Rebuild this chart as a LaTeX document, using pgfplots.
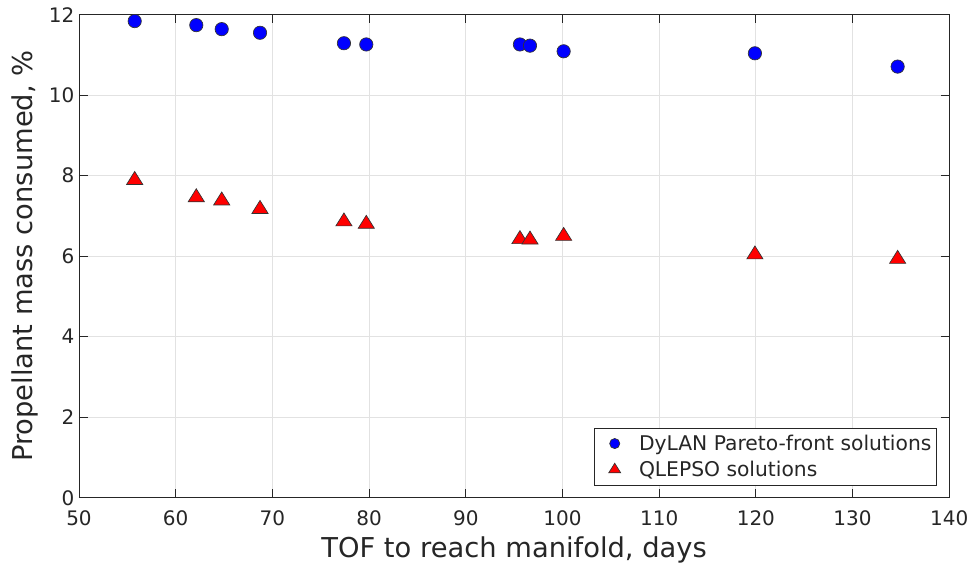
\documentclass[border=0pt]{standalone}
\usepackage{pgfplots}
\pgfplotsset{compat=1.18}
\usepackage{fontspec}
\setmainfont{DejaVu Sans}
\definecolor{txt}{HTML}{262626}
\definecolor{gridc}{HTML}{E2E2E2}
\definecolor{mblue}{HTML}{0000FF}
\definecolor{mred}{HTML}{FF0000}
\begin{document}
\begin{tikzpicture}
\begin{axis}[
  scale only axis, width=652.7pt, height=362.3pt,
  xmin=50, xmax=140, ymin=0, ymax=12,
  xtick={50,60,...,140}, ytick={0,2,...,12},
  grid=major, major grid style={gridc, line width=0.6pt},
  axis line style={txt, line width=0.6pt},
  tick style={txt, line width=0.6pt},
  major tick length=6.5pt,
  tick align=inside,
  xtick pos=both, ytick pos=both,
  ticklabel style={font=\fontsize{15}{18}\selectfont, text=txt},
  xticklabel style={yshift=-6.5pt},
  /pgf/number format/assume math mode=true,
  xlabel={TOF to reach manifold, days},
  ylabel={Propellant mass consumed, \%},
  label style={font=\fontsize{20.5}{24}\selectfont, text=txt},
  xlabel style={yshift=-1pt},
  ylabel style={yshift=1pt},
  legend style={at={(rel axis cs:0.986,0.025)}, anchor=south east,
    draw=txt, line width=0.5pt, font=\fontsize{15.2}{18}\selectfont, text=txt,
    inner xsep=2pt, inner ysep=3.25pt, row sep=2.5pt},
  legend image code/.code={\path[draw=none,fill=none] (-7.5pt,0pt) rectangle (22pt,0pt); \draw[#1] plot[only marks] coordinates {(5.8pt,0pt)};},
  legend cell align=left,
]
\addplot[only marks, mark=*, mark size=5pt, mark options={fill=mblue, draw=black!80, line width=0.5pt},
  legend image post style={mark size=3.8pt}]
coordinates {
(55.76,11.84) (62.13,11.74) (64.76,11.64) (68.72,11.55) (77.4,11.29) (79.71,11.26)
(95.6,11.26) (96.64,11.23) (100.12,11.09) (119.9,11.04) (134.66,10.71)
};
\addlegendentry{DyLAN Pareto-front solutions}
\addplot[only marks, mark=triangle*, mark size=6.5pt, mark options={fill=mred, draw=black!80, line width=0.5pt, xscale=1.08},
  legend image post style={mark size=4.8pt}]
coordinates {
(55.76,7.89) (62.13,7.46) (64.76,7.38) (68.72,7.17) (77.4,6.86) (79.71,6.80)
(95.6,6.42) (96.64,6.41) (100.12,6.50) (119.9,6.04) (134.66,5.93)
};
\addlegendentry{QLEPSO solutions}
\end{axis}
\pgfresetboundingbox
\path (current axis.south west) ++(-59.25pt,-51.2pt) rectangle ++(730.5pt,424.5pt);
\end{tikzpicture}
\end{document}
